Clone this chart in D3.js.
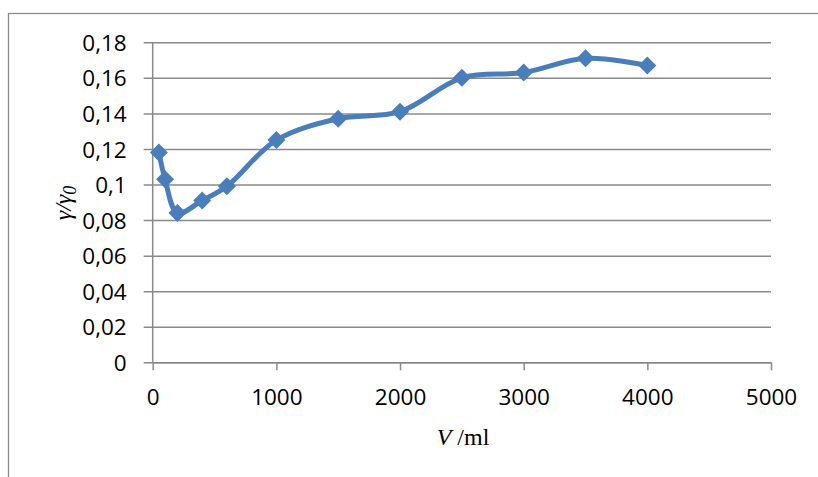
<!DOCTYPE html>
<html><head><meta charset="utf-8">
<script src="https://cdn.jsdelivr.net/npm/d3@7"></script>
<style>html,body{margin:0;padding:0;background:#fff;}svg{display:block;}</style>
</head><body>
<script>
const volumes = [50, 100, 200, 400, 600, 1000, 1500, 2000, 2500, 3000, 3500, 4000];
const ratios  = [0.118, 0.103, 0.084, 0.091, 0.099, 0.125, 0.137, 0.141, 0.160, 0.163, 0.171, 0.167];
const xTicks = [0, 1000, 2000, 3000, 4000, 5000];
const yTicks = [0, 0.02, 0.04, 0.06, 0.08, 0.1, 0.12, 0.14, 0.16, 0.18];

const W = 818, H = 477;
const svg = d3.select("body").append("svg").attr("width", W).attr("height", H);

// outer chart border (left and top visible)
svg.append("rect").attr("x", 8.5).attr("y", 13.5).attr("width", 830).attr("height", 500)
  .attr("fill", "none").attr("stroke", "#8c8c8c").attr("stroke-width", 1.3);

const x = d3.scaleLinear().domain([0, 5000]).range([152.7, 771]);
const y = d3.scaleLinear().domain([0, 0.18]).range([362.3, 42.3]);

const gridColor = "#8a8a8a";
const fmt = d => d === 0 ? "0" : String(+d.toFixed(2)).replace(".", ",");

// y axis with gridlines
const gy = svg.append("g").attr("transform", `translate(${x(0)},0)`)
  .call(d3.axisLeft(y).tickValues(yTicks).tickFormat(fmt)
    .tickSizeInner(-(x(5000) - x(0))).tickSizeOuter(0).tickPadding(0));
gy.select(".domain").remove();
gy.selectAll(".tick line").attr("x1", -9).attr("stroke", gridColor).attr("stroke-width", 1.5);
gy.selectAll(".tick text").attr("x", -26).attr("dy", "0.36em")
  .attr("font-family", "'Open Sans', sans-serif").attr("font-size", 22.5).attr("fill", "#000");

// y axis line
svg.append("line").attr("x1", x(0)).attr("x2", x(0)).attr("y1", y(0.18)).attr("y2", y(0))
  .attr("stroke", gridColor).attr("stroke-width", 1.5);

// x axis
const gx = svg.append("g").attr("transform", `translate(0,${y(0)})`)
  .call(d3.axisBottom(x).tickValues(xTicks).tickFormat(d3.format("d"))
    .tickSizeInner(8).tickSizeOuter(0).tickPadding(0));
gx.select(".domain").attr("stroke", gridColor).attr("stroke-width", 1.5);
gx.selectAll(".tick line").attr("stroke", gridColor).attr("stroke-width", 1.5);
gx.selectAll(".tick text").attr("y", 43).attr("dy", 0)
  .attr("font-family", "'Open Sans', sans-serif").attr("font-size", 22.5).attr("fill", "#000");

// series
const pts = volumes.map((v, i) => [v, ratios[i]]);
const line = d3.line().x(d => x(d[0])).y(d => y(d[1])).curve(d3.curveCatmullRom.alpha(0.5));
svg.append("path").datum(pts).attr("d", line).attr("fill", "none")
  .attr("stroke", "#4a7ebb").attr("stroke-width", 5).attr("stroke-linejoin", "round");

const s = 9;
svg.append("g").selectAll("path").data(pts).join("path")
  .attr("transform", d => `translate(${x(d[0])},${y(d[1])})`)
  .attr("d", `M0,${-s}L${s},0L0,${s}L${-s},0Z`)
  .attr("fill", "#4a7ebb");

// axis titles
const xt = svg.append("text").attr("x", 463).attr("y", 445).attr("text-anchor", "middle")
  .attr("font-family", "'Liberation Serif', 'Times New Roman', serif").attr("font-size", 24).attr("fill", "#000");
xt.append("tspan").attr("font-style", "italic").text("V");
xt.append("tspan").text(" /ml");

const yt = svg.append("text").attr("transform", "translate(71,203) rotate(-90)").attr("text-anchor", "middle")
  .attr("font-family", "'Liberation Serif', 'Times New Roman', serif").attr("font-size", 24)
  .attr("font-style", "italic").attr("fill", "#000");
yt.append("tspan").text("γ/γ");
yt.append("tspan").attr("font-size", 18).attr("dy", 5).text("0");
</script>
</body></html>
